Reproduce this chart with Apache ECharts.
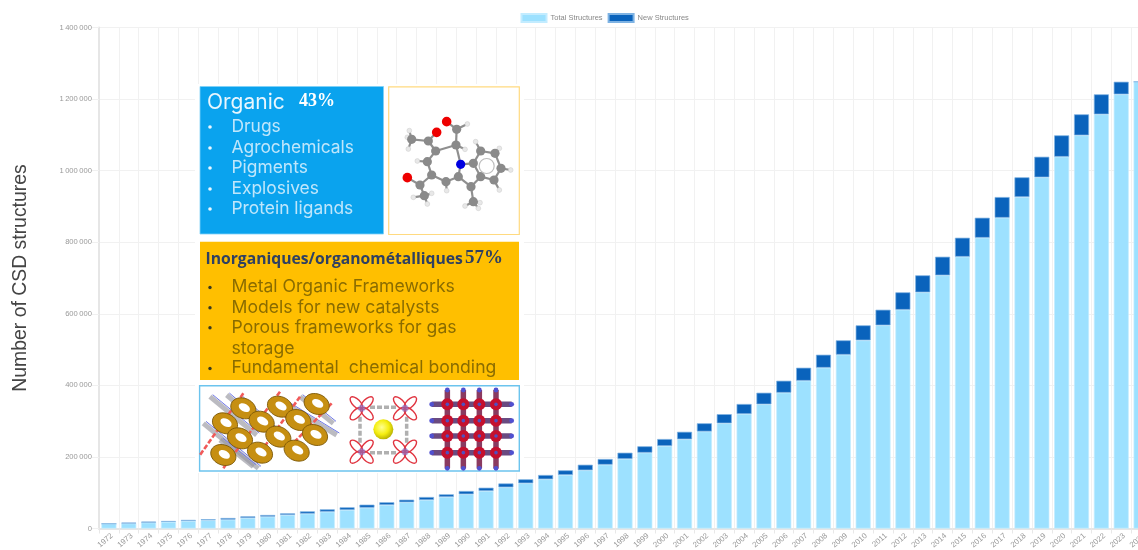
<!DOCTYPE html>
<html><head><meta charset="utf-8">
<style>html,body{margin:0;padding:0;background:#fff;overflow:hidden}#c{width:1138px;height:550px;filter:blur(0.5px)}</style>
<script src="https://cdn.jsdelivr.net/npm/echarts@6/dist/echarts.min.js"></script>
</head><body><div id="c"></div>
<script>
const years = ['1972','1973','1974','1975','1976','1977','1978','1979','1980','1981','1982','1983','1984','1985','1986','1987','1988','1989','1990','1991','1992','1993','1994','1995','1996','1997','1998','1999','2000','2001','2002','2003','2004','2005','2006','2007','2008','2009','2010','2011','2012','2013','2014','2015','2016','2017','2018','2019','2020','2021','2022','2023','2024'];
const totalStructures = [13400,14000,16500,18500,21000,23000,24600,29300,33000,37700,41400,46900,51700,58100,65700,73200,79600,88000,95600,104800,115100,126300,137500,149500,162600,178300,194200,211800,230500,249200,271000,293900,319900,347000,379400,412900,449300,485600,525800,567700,611300,659900,707400,759400,812500,868400,926200,981300,1038800,1098600,1157300,1213200,1248400];
const newStructures = [0,2500,2800,2500,3000,3000,4700,4700,4700,4700,6500,6700,7500,8500,7600,7300,8400,7500,9200,9200,10800,11200,12000,13100,15600,15900,17600,17900,19500,21000,23000,25600,28000,32400,33500,36400,36300,40200,41900,43600,48600,47500,52000,53100,55900,57800,55100,57500,59800,58700,55900,35200,0];
const yTicks = {min:0,max:1400000,step:200000};
const seriesNames = ['Total Structures','New Structures'];
const yTitle = 'Number of CSD structures';
const organicItems = ['Drugs','Agrochemicals','Pigments','Explosives','Protein ligands'];
const inorganicItems = ['Metal Organic Frameworks','Models for new catalysts','Porous frameworks for gas','storage','Fundamental  chemical bonding'];

const BODY = 'Inter, "Open Sans", sans-serif';
const g = [];
const rect=(x,y,w,h,fill,stroke,lw)=>g.push({type:'rect',shape:{x,y,width:w,height:h},style:{fill,stroke:stroke||null,lineWidth:lw||0},z:10});
const text=(x,base,t,size,weight,family,fill)=>g.push({type:'text',x,y:base-size*0.36,style:{text:t,font:(weight?weight+' ':'')+size+'px '+family,fill,verticalAlign:'middle',align:'left'},z:12});
const circle=(x,y,r,fill,stroke,lw)=>g.push({type:'circle',shape:{cx:x,cy:y,r},style:{fill,stroke:stroke||null,lineWidth:lw||0},z:11});
const line=(a,b,c,d,stroke,lw,dash)=>g.push({type:'line',shape:{x1:a,y1:b,x2:c,y2:d},style:{stroke,lineWidth:lw,lineDash:dash||null},z:11});
const ell=(x,y,rx,ry,rot,fill,stroke,lw)=>g.push({type:'ellipse',x,y,rotation:rot,shape:{cx:0,cy:0,rx,ry},style:{fill,stroke:stroke||null,lineWidth:lw||0},z:11});

// backing and panels
rect(195,84,329,389,'#ffffff');
rect(200,86.5,183.5,147.5,'#0AA3EE','#7fd0f7',0.8);
rect(388.7,86.8,130.6,147.7,'#ffffff','#FFDA80',1.2);
rect(200,241.7,319,138.3,'#FFBF00');
rect(199.6,385.8,319.7,85.2,'#ffffff','#6CC4EE',1.4);

// organic panel
text(207,110,'Organic',21,'',BODY,'#E8F6FE');
text(299,108,'43%',18,'bold','"Liberation Serif"','#ffffff');
const orgY=[133,154,174,195,215];
organicItems.forEach((t,i)=>{circle(210,orgY[i]-6,1.8,'#EAF7FF');text(231.5,orgY[i],t,17.4,'',BODY,'#BFE6FB');});

// inorganic panel
text(205.5,265,'Inorganiques/organométalliques',15.7,'bold','"Open Sans"','#2F4062');
text(465,265,'57%',19,'bold','"Liberation Serif"','#2F4062');
const inoY=[293.5,313.7,333.7,354.7,374.5], inoB=[1,1,1,0,1];
inorganicItems.forEach((t,i)=>{if(inoB[i])circle(210,inoY[i]-6,1.7,'#3a3a20');text(231.5,inoY[i],t,17.6,'',BODY,'#8A6C00');});

// molecule illustration
const mx=z=>190+z/3, my=z=>80+z/3;
const bonds=[[715,183,737,213],[737,213,712,245],[712,245,725,285],[725,285,768,305],[768,305,805,290],[805,290,843,320],[843,320,872,290],[872,290,850,250],[850,250,812,253],[812,253,805,290],[812,253,798,195],[798,195,737,213],[798,195,800,148],[800,148,770,125],[715,183,740,157],[715,183,665,178],[725,285,690,315],[690,315,652,293],[690,315,703,347],[843,320,850,365],[850,250,872,213],[872,213,915,220],[915,220,933,265],[933,265,912,300],[912,300,872,290],[665,178,658,152],[665,178,652,172],[665,178,655,207],[800,148,832,132],[712,245,682,243],[798,195,825,208],[872,213,857,185],[915,220,928,205],[933,265,962,270],[912,300,928,330],[768,305,770,332],[703,347,670,352],[703,347,725,340],[703,347,712,372],[850,365,825,378],[850,365,870,368],[850,365,865,385]];
bonds.forEach(b=>line(mx(b[0]),my(b[1]),mx(b[2]),my(b[3]),'#8f8f8f',2.2));
[[658,152],[652,172],[655,207],[832,132],[682,243],[825,208],[857,185],[928,205],[962,270],[928,330],[770,332],[670,352],[725,340],[712,372],[825,378],[870,368],[865,385]].forEach(p=>circle(mx(p[0]),my(p[1]),2.4,'#e8e8e8','#c8c8c8',0.5));
[[715,183],[737,213],[712,245],[725,285],[768,305],[805,290],[843,320],[872,290],[850,250],[872,213],[915,220],[933,265],[912,300],[798,195],[800,148],[665,178],[690,315],[703,347],[850,365]].forEach(p=>circle(mx(p[0]),my(p[1]),4.6,'#8a8a8a'));
g.push({type:'circle',shape:{cx:mx(890),cy:my(258),r:7.5},style:{fill:'#fff',stroke:'#bdbdbd',lineWidth:1.2},z:11});
[[740,157],[770,125],[652,293]].forEach(p=>circle(mx(p[0]),my(p[1]),4.8,'#EE0000'));
circle(mx(812),my(253),4.6,'#0000E0');

// framework illustrations
const fx=z=>190+z/3, fy=z=>380+z/3;
[[60,50,200,165],[150,55,330,220],[260,55,440,165],[40,130,205,265],[110,45,280,190],[330,50,430,130],[90,180,190,260]].forEach(l=>{line(fx(l[0]),fy(l[1]),fx(l[2]),fy(l[3]),'rgba(150,150,160,0.65)',5);line(fx(l[0]+8),fy(l[1]-6),fx(l[2]+8),fy(l[3]-6),'#6f78e8',1);});
[[160,40,30,225],[270,35,100,265],[330,50,195,240],[425,70,300,200]].forEach(l=>{line(fx(l[0]),fy(l[1]),fx(l[2]),fy(l[3]),'#f05a5a',2.6,[5,2]);});
[[160,85],[270,80],[380,72],[105,130],[215,125],[325,120],[150,175],[265,170],[375,165],[100,225],[210,218],[320,212]].forEach(p=>{ell(fx(p[0]),fy(p[1]),13,10,-0.4,'#C68F12','#7A5606',0.8);ell(fx(p[0]+3),fy(p[1]-2),6,3.8,-0.5,'#ffffff');});

// cage with guest sphere
[[540,82,620,82],[540,218,620,218],[510,110,510,190],[650,110,650,190]].forEach(l=>line(fx(l[0]),fy(l[1]),fx(l[2]),fy(l[3]),'#b0b0b0',3.5,[5,2]));
[[515,85],[645,85],[515,215],[645,215]].forEach(p=>{
  [0,1,2,3].forEach(k=>{const a=k*Math.PI/2+Math.PI/4;
    ell(fx(p[0])+Math.cos(a)*7.5,fy(p[1])+Math.sin(a)*7.5,8,3.8,-a,null,'#E0333F',1.4);});
  circle(fx(p[0]),fy(p[1]),3.5,'rgba(120,120,220,0.55)');
});
g.push({type:'circle',shape:{cx:fx(580),cy:fy(148),r:10},style:{fill:{type:'radial',x:0.42,y:0.4,r:0.65,colorStops:[{offset:0,color:'#FFFF90'},{offset:0.55,color:'#F5EE10'},{offset:1,color:'#B0A800'}]}},z:12});

// metal-oxide lattice
const rows=[73,122,168,218], cols=[772,820,868,918];
rows.forEach(y=>{line(fx(725),fy(y),fx(965),fy(y),'#6a4a80',5.5);});
cols.forEach(x=>{line(fx(x),fy(30),fx(x),fy(265),'#8a3a60',5.5);});
rows.forEach(y=>cols.forEach(x=>{circle(fx(x),fy(y),6,'#C4102E');circle(fx(x),fy(y),1.8,'#5050C0');}));
rows.forEach(y=>[725,965].forEach(x=>circle(fx(x),fy(y),2.4,'#5050D0')));
cols.forEach(x=>[30,265].forEach(y=>circle(fx(x),fy(y),2.4,'#5050D0')));

const chart = echarts.init(document.getElementById('c'),null,{renderer:'canvas'});
const fmt=v=>String(v).replace(/\B(?=(\d{3})+(?!\d))/g,'\u2009');
chart.setOption({
  animation:false,
  textStyle:{fontFamily:'"Liberation Sans", Arial, sans-serif'},
  legend:{left:520.5,top:13,itemWidth:25,itemHeight:8,itemGap:5,icon:'rect',padding:0,
    textStyle:{fontSize:7.5,color:'#888',padding:[0,0,0,-1]},data:seriesNames},
  grid:{left:99,top:27.5,width:1052,height:501,containLabel:false,outerBoundsMode:'none'},
  xAxis:{type:'category',data:years,boundaryGap:true,
    axisLine:{lineStyle:{color:'#e6e6e6',width:2}},
    axisTick:{show:true,length:5,lineStyle:{color:'#e8e8e8'}},
    splitLine:{show:true,lineStyle:{color:'#f1f1f1',width:1}},
    axisLabel:{interval:0,rotate:40,fontSize:7.8,color:'#999',margin:9,hideOverlap:false,padding:[0,-4,0,0]}},
  yAxis:{type:'value',min:yTicks.min,max:yTicks.max,interval:yTicks.step,
    name:yTitle,nameLocation:'middle',nameGap:69,nameTextStyle:{fontSize:19.4,color:'#444'},
    axisLine:{show:true,lineStyle:{color:'#e6e6e6',width:2}},
    axisTick:{show:true,length:7,lineStyle:{color:'#f0f0f0'}},
    splitLine:{show:true,lineStyle:{color:'#f1f1f1',width:1}},
    axisLabel:{fontSize:7.6,color:'#999',margin:7,formatter:fmt}},
  series:[
    {name:seriesNames[0],type:'bar',stack:'s',data:totalStructures,barWidth:15,
      itemStyle:{color:'#9DE1FF',borderColor:'#C3ECFF',borderWidth:0.7}},
    {name:seriesNames[1],type:'bar',stack:'s',data:newStructures,barWidth:15,
      itemStyle:{color:'#0A63BC',borderColor:'#7FB3E3',borderWidth:0.7}}
  ],
  graphic:{elements:g}
});
</script></body></html>
